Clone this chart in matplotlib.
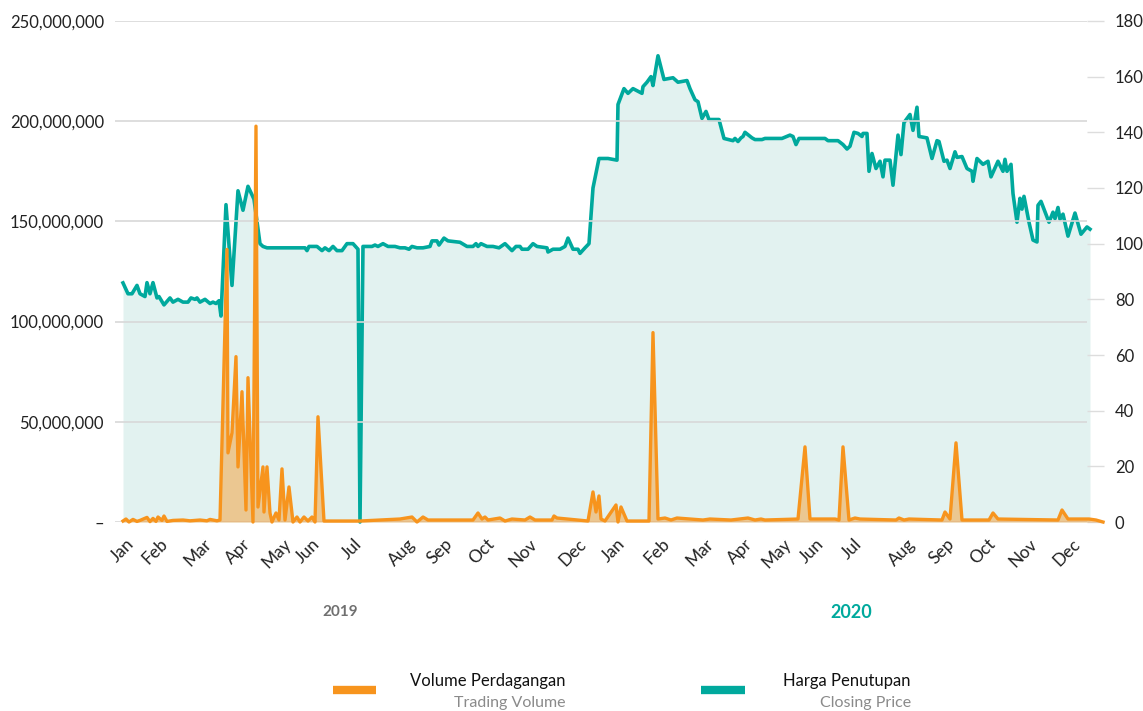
import numpy as np
import matplotlib.pyplot as plt
from matplotlib.lines import Line2D
from matplotlib.ticker import FuncFormatter

plt.rcParams['font.family'] = ['Lato', 'DejaVu Sans']

# x = urutan hari bursa (Jan 2019 = 0)
harga_x = [0.5, 3, 5, 7.5, 9, 11.5, 12.5, 14, 15.5, 17.5, 18.5, 21, 24, 25.5, 28, 30.5, 33,
           34.5, 36.5, 37.5, 39, 41.5, 44, 45.5, 47, 48.5, 49.5, 52, 55, 58, 60.5, 63, 66,
           69, 70.5, 72.5, 91.5, 92.5, 93.5, 97.5, 100, 101.5, 103.5, 105.5, 107.5, 110,
           112.5, 115.5, 118, 119, 120.5, 125, 126.5, 128, 130.5, 133, 136.5, 139, 141.5,
           143.5, 145, 147.5, 150.5, 154, 155, 157.5, 158.5, 161, 163, 169, 172.5, 175.5,
           177, 178, 179.5, 182.5, 185.5, 188.5, 191.5, 195, 197, 199, 200, 203, 205.5,
           207.5, 212.5, 213, 215.5, 219, 221.5, 223, 225.5, 228, 229, 231.5, 233.5, 235.5,
           238.5, 243, 247.5, 248, 251, 253, 255.5, 260, 260.5, 262.5, 264.5, 265.5, 268,
           271, 275.5, 278, 282.5, 284, 286.5, 288, 290, 292, 293.5, 298.5, 301, 305.5,
           306.5, 308, 309.5, 310.5, 311.5, 315, 316.5, 320, 321.5, 330, 334, 335.5, 337,
           338.5, 351.5, 353, 358, 360.5, 362.5, 364, 366, 368, 370, 370.5, 372.5, 373.5,
           375, 377, 379, 380.5, 381.5, 384, 385.5, 388, 389.5, 391, 394, 395.5, 397.5,
           398.5, 402.5, 405, 407.5, 408.5, 411, 412.5, 414, 416.5, 417.5, 420, 422.5, 425,
           425.5, 427.5, 430.5, 433, 434.5, 438, 440.5, 441.5, 442.5, 444.5, 445.5, 447.5,
           449, 450, 451, 453.5, 455.5, 457.5, 458, 459.5, 463.5, 465.5, 466.5, 468, 469,
           470.5, 473, 476.5, 479.5, 482.5, 484]
harga = [85.9, 82, 82, 85, 82, 81, 86, 82, 86, 80.5, 81, 78, 80.5, 79, 80, 79, 79,
         80.5, 80, 80.5, 79, 80, 78.5, 79, 78.5, 79.5, 74, 114, 85, 119, 112, 120.6, 116,
         100, 99, 98.5, 98.5, 97.5, 99, 99, 97.5, 98.5, 97.5, 99, 97.5, 97.5,
         100, 100, 98, 0, 99, 99, 99.5, 99, 100, 99, 99, 98.5, 98.5,
         98, 99, 98.5, 98.5, 99, 101, 101, 99.5, 102, 101, 100.5, 99, 99,
         100, 99, 100, 99, 99, 98.5, 100, 97.5, 99, 99, 98, 98, 100,
         99, 98.5, 97, 98, 98, 99, 102, 98, 98, 96.5, 98.5, 100, 120,
         130.6, 130.6, 130, 150, 155.7, 154, 155.7, 154, 156.4, 158, 160, 156.8, 167.5,
         159, 159.6, 158, 158.6, 155.7, 151.7, 151, 145, 147.5, 144.6, 144.6, 137.8, 137,
         137.8, 136.7, 138, 138.5, 140, 138, 137.4, 137.4, 137.8, 137.8, 139, 138.5, 135.6,
         137.8, 137.8, 137, 137, 135.6, 134, 135, 140, 139.6, 138.5, 139.6, 139.6, 126,
         132.4, 127, 129.6, 124, 130, 130, 121, 139, 132, 143.5, 146.4, 140.7, 149,
         138.5, 138, 130.6, 137, 136.7, 129.6, 130, 127, 133, 131, 131.3, 127, 126,
         122.4, 130.6, 128.5, 129.6, 124, 129.6, 126, 130.3, 126, 128.5, 118, 107.7,
         116.3, 112.4, 117, 107.7, 101.3, 100.6, 113.8, 115.2, 107.7, 111.3, 109, 113, 108.8,
         110.6, 102.7, 111, 103.4, 106, 105.2]

volume_x = [0.5, 2, 3.5, 5.5, 7.5, 9, 12.5, 14, 15.5, 17, 18, 20, 21, 22.5, 25.5, 30.5, 34,
            39, 42.5, 44, 47.5, 49, 52.5, 53, 55, 57, 58, 60, 62, 63, 65.5, 67, 68, 70.5,
            71, 72.5, 74, 75, 77, 78.5, 80, 81.5, 83.5, 85.5, 87.5, 89, 91, 93, 95, 96.5,
            98, 101, 119, 139, 145, 147.5, 150.5, 153, 175.5, 178, 180, 181.5, 183, 189,
            191.5, 195, 201.5, 204, 206.5, 215, 216, 217.5, 233, 235.5, 237, 238.5, 239.5,
            241.5, 247, 248, 249.5, 252.5, 263.5, 265.5, 268, 271.5, 274.5, 277.5, 290.5,
            294, 304.5, 313, 316.5, 319.5, 321.5, 338, 341.5, 344, 356.5, 358.5, 360.5,
            363.5, 366.5, 369, 387, 388.5, 391, 393.5, 410, 411.5, 414, 417, 420, 433.5,
            435.5, 438, 468, 470, 473, 483.5, 487, 490.5]
volume_juta = [0.5, 1.5, 0, 1.3, 0.3, 0.8, 2.3, 0.2, 1.8, 0.3, 2.5, 0.8, 3, 0.3, 0.8, 1, 0.6,
               1, 0.6, 1.3, 0.6, 1, 136, 34.5, 44.5, 82.5, 27.5, 65, 6, 72, 0, 197.5, 7.5, 27.5,
               5, 27.5, 4.5, 0, 4.5, 1, 26.5, 1, 17.5, 0, 2.5, 0, 2.5, 0.5, 2.5, 0,
               52.5, 0.5, 0.5, 1.5, 2.5, 0, 2.5, 1, 1, 4.5, 1.5, 2.5, 1, 2,
               0.5, 1.5, 1, 2.5, 1, 1, 3, 2, 0.5, 15, 5, 13, 1.5,
               0.5, 8.5, 0, 7.5, 0.5, 0.5, 94.5, 1.5, 2, 1, 2, 1,
               1.5, 1, 2, 1, 1.5, 1, 1.5, 37.5, 1.5, 1.5, 1, 37.5,
               1, 2, 1.5, 1, 2, 1, 1.5, 1, 5, 1.5, 39.5, 1, 1,
               4.5, 1.5, 1, 6, 1.5, 1.5, 1, 0]

bulan = ["Jan", "Feb", "Mar", "Apr", "May", "Jun", "Jul", "Aug", "Sep", "Oct", "Nov", "Dec"] * 2
bulan_x = [0, 16.5, 38, 58, 77.5, 93, 115, 140, 159, 180, 200.5, 225.5,
           245.5, 267.5, 289, 309, 327.5, 345, 365, 390, 410, 430.5, 450.5, 472.5]

hijau = "#00A99D"
oranye = "#F7941D"

volume = np.array(volume_juta) * 1e6

fig = plt.figure(figsize=(11.43, 7.11), dpi=100)
ax = fig.add_axes([0.1006, 0.2658, 0.8504, 0.7047])
ax2 = ax.twinx()
ax.set_zorder(ax2.get_zorder() + 1)
ax.patch.set_visible(False)

# harga penutupan (sumbu kanan)
ax2.fill_between(harga_x, harga, 0, color="#E2F2F0", lw=0, clip_on=False)
ax2.plot(harga_x, harga, color=hijau, lw=2.6, clip_on=False)
ax2.set_ylim(0, 180)
ax2.set_yticks(range(0, 181, 20))

# volume perdagangan (sumbu kiri)
ax.fill_between(volume_x, volume, 0, color=oranye, alpha=0.45, lw=0, clip_on=False)
ax.plot(volume_x, volume, color=oranye, lw=2.4, clip_on=False)
ax.set_ylim(0, 250e6)
ax.set_yticks(np.arange(0, 250e6 + 1, 50e6))
ax.yaxis.set_major_formatter(FuncFormatter(lambda v, p: "–" if v == 0 else "{:,.0f}".format(v)))
ax.set_xlim(-3.5, 482.5)
ax.set_xticks(bulan_x)
ax.set_xticklabels(bulan, rotation=45, ha="center", va="top")

ax.grid(axis="y", color="#D8D8D8", lw=1.2)
ax.set_axisbelow(True)
for a in (ax, ax2):
    for s in a.spines.values():
        s.set_visible(False)
ax.tick_params(axis="y", length=0, pad=8, labelsize=12, colors="#222222")
ax.tick_params(axis="x", length=0, pad=10, labelsize=12.5, colors="#222222")
ax2.tick_params(axis="y", length=12, width=1, color="#DDDDDD", pad=8, labelsize=12,
                labelcolor="#222222")

# label tahun
fig.text(0.298, 0.139, "2019", ha="center", va="center", fontsize=11, fontweight="bold",
         color="#707070")
fig.text(0.745, 0.139, "2020", ha="center", va="center", fontsize=13, fontweight="bold",
         color=hijau)

# legenda
fig.add_artist(Line2D([0.2913, 0.329], [0.0295, 0.0295], color=oranye, lw=6,
                      solid_capstyle="butt"))
fig.text(0.495, 0.042, "Volume Perdagangan", ha="right", va="center", fontsize=12,
         color="#111111")
fig.text(0.495, 0.011, "Trading Volume", ha="right", va="center", fontsize=11.5,
         color="#8A8A8A")
fig.add_artist(Line2D([0.6133, 0.652], [0.0295, 0.0295], color=hijau, lw=6,
                      solid_capstyle="butt"))
fig.text(0.797, 0.042, "Harga Penutupan", ha="right", va="center", fontsize=12,
         color="#111111")
fig.text(0.797, 0.011, "Closing Price", ha="right", va="center", fontsize=11.5,
         color="#8A8A8A")

plt.savefig("out.png", dpi=100)
